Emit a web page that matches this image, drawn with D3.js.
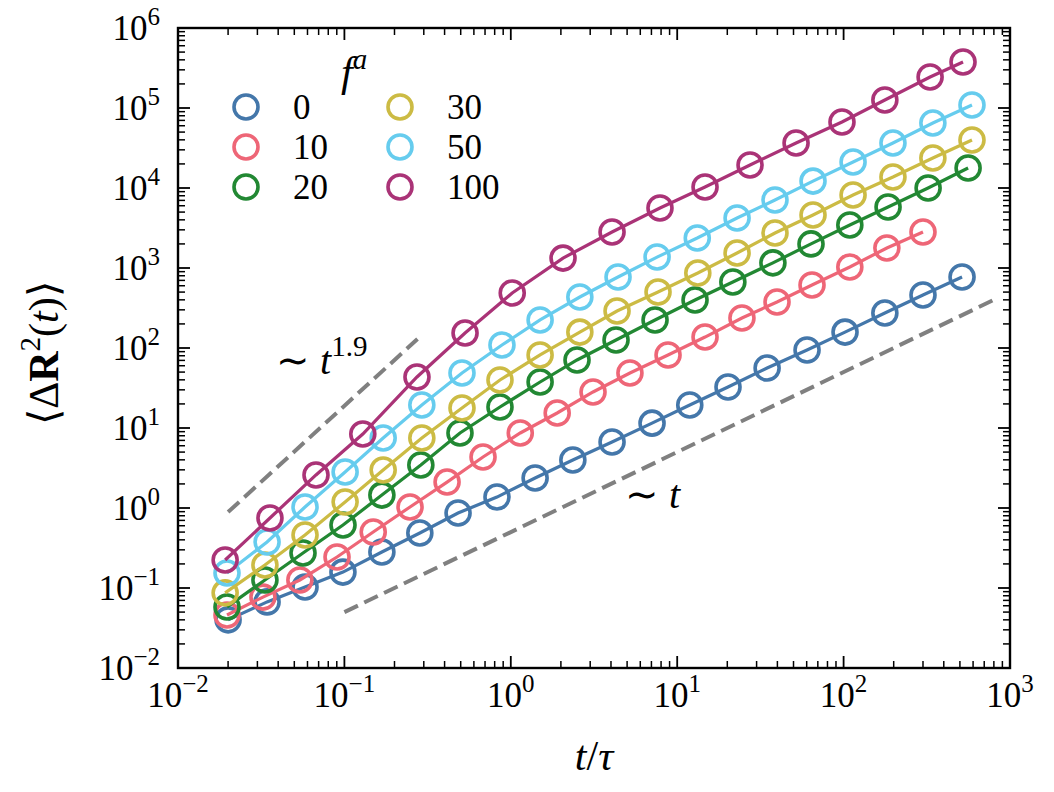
<!DOCTYPE html>
<html>
<head>
<meta charset="utf-8">
<script src="https://cdn.jsdelivr.net/npm/d3@7"></script>
<style>
  html, body { margin: 0; padding: 0; background: #fff; }
  svg { display: block; }
</style>
</head>
<body>
<svg id="chart" width="1054" height="792"></svg>
<script>
// ---------------- data ----------------
const faLabels = ["0", "10", "20", "30", "50", "100"];
const seriesColors = ["#4477AA", "#EE6677", "#228833", "#CCBB44", "#66CCEE", "#AA3377"];

const tF0 = [0.020, 0.0343, 0.058, 0.098, 0.168, 0.284, 0.482, 0.826, 1.40, 2.36, 4.06, 7.06, 11.9, 20.2, 34.7, 60.3, 102, 177, 300, 515];
const rF0 = [0.040, 0.067, 0.103, 0.158, 0.282, 0.487, 0.866, 1.37, 2.37, 3.98, 6.68, 11.5, 19.4, 32.6, 56.2, 94.4, 158, 274, 460, 772];

const tF10 = [0.0197, 0.0324, 0.054, 0.0903, 0.149, 0.248, 0.414, 0.681, 1.14, 1.90, 3.12, 5.20, 8.81, 14.7, 24.5, 39.8, 64.6, 109, 182, 300];
const rF10 = [0.046, 0.077, 0.126, 0.244, 0.501, 1.03, 2.11, 4.34, 8.66, 15.4, 28.2, 48.7, 81.8, 137, 237, 376, 613, 1030, 1780, 2820];

const tF20 = [0.0197, 0.0333, 0.0564, 0.0981, 0.168, 0.288, 0.495, 0.861, 1.50, 2.50, 4.29, 7.36, 12.8, 21.6, 37.6, 63.7, 109, 185, 322, 560];
const rF20 = [0.058, 0.126, 0.274, 0.613, 1.45, 3.45, 8.66, 18.3, 37.6, 70.8, 126, 224, 398, 668, 1160, 2000, 3450, 5790, 10000, 17800];

const tF30 = [0.0192, 0.0333, 0.058, 0.101, 0.171, 0.292, 0.509, 0.861, 1.50, 2.60, 4.35, 7.67, 13.3, 22.9, 38.7, 65.5, 114, 198, 344, 591];
const rF30 = [0.087, 0.194, 0.46, 1.19, 2.99, 7.5, 17.8, 39.8, 81.8, 158, 290, 501, 866, 1540, 2740, 4600, 8180, 13700, 23700, 39800];

const tF50 = [0.0197, 0.0343, 0.058, 0.101, 0.171, 0.292, 0.509, 0.885, 1.50, 2.60, 4.41, 7.57, 13.2, 22.9, 38.7, 65.5, 114, 198, 344, 591];
const rF50 = [0.154, 0.376, 1.03, 2.82, 7.50, 19.4, 48.7, 109, 224, 434, 772, 1370, 2370, 4220, 7080, 12200, 21100, 36500, 64900, 109000];

const tF100 = [0.0192, 0.0357, 0.0675, 0.129, 0.273, 0.531, 1.02, 2.06, 4.06, 7.88, 14.7, 27.4, 51.8, 97.8, 177, 331, 522];
const rF100 = [0.224, 0.75, 2.59, 8.41, 43.4, 154, 487, 1330, 2820, 5620, 10300, 19400, 36500, 66800, 126000, 244000, 376000];

// guide lines (power laws): start/end times and values
const guideSuper = { t: [0.02, 0.275], r: [0.89, 129.5], label: "1.9" };
const guideLinear = { t: [0.1, 800], r: [0.05, 400] };

const xTickExps = [-2, -1, 0, 1, 2, 3];
const yTickExps = [-2, -1, 0, 1, 2, 3, 4, 5, 6];

// ---------------- drawing ----------------
const series = [
  { t: tF0, r: rF0 }, { t: tF10, r: rF10 }, { t: tF20, r: rF20 },
  { t: tF30, r: rF30 }, { t: tF50, r: rF50 }, { t: tF100, r: rF100 }
].map((s, i) => ({ ...s, label: faLabels[i], color: seriesColors[i] }));

const FONT = '"Liberation Serif", "Times New Roman", serif';
const L = 178, R = 1010, T = 28, B = 668;

const svg = d3.select("#chart");
const x = d3.scaleLog().domain([1e-2, 1e3]).range([L, R]);
const y = d3.scaleLog().domain([1e-2, 1e6]).range([B, T]);

function txt(px, py, size) {
  return svg.append("text").attr("x", px).attr("y", py)
    .style("font-family", FONT).style("font-size", size + "px").attr("fill", "#000");
}
function sub(sel, s, opts = {}) {
  const ts = sel.append("tspan").text(s);
  if (opts.size) ts.style("font-size", opts.size + "px");
  if (opts.dy) ts.attr("dy", opts.dy);
  if (opts.italic) ts.style("font-style", "italic");
  if (opts.bold) ts.style("font-weight", "bold");
  return ts;
}

svg.append("defs").append("clipPath").attr("id", "clip")
  .append("rect").attr("x", L).attr("y", T).attr("width", R - L).attr("height", B - T);

const plot = svg.append("g").attr("clip-path", "url(#clip)");

function guide(g) {
  plot.append("path")
    .attr("d", d3.line().x(d => x(d[0])).y(d => y(d[1]))(g.t.map((tt, i) => [tt, g.r[i]])))
    .attr("fill", "none").attr("stroke", "#808080").attr("stroke-width", 4)
    .attr("stroke-dasharray", "15,7");
}
guide(guideSuper);
guide(guideLinear);

const line = d3.line().x(d => x(d[0])).y(d => y(d[1]));
series.forEach(s => {
  const pts = s.t.map((tt, i) => [tt, s.r[i]]);
  const g = plot.append("g");
  g.append("path").attr("d", line(pts)).attr("fill", "none")
    .attr("stroke", s.color).attr("stroke-width", 3.2);
  g.selectAll("circle").data(pts).join("circle")
    .attr("cx", d => x(d[0])).attr("cy", d => y(d[1])).attr("r", 12)
    .attr("fill", "none").attr("stroke", s.color).attr("stroke-width", 3.6);
});

// ticks (inward on all four sides)
const axes = svg.append("g").attr("stroke", "#000").attr("stroke-width", 1.8);
function minorVals(exps) {
  const out = [];
  for (let e = exps[0]; e < exps[exps.length - 1]; e++)
    for (let k = 2; k <= 9; k++) out.push(k * Math.pow(10, e));
  return out;
}
const xMaj = xTickExps.map(e => Math.pow(10, e));
const yMaj = yTickExps.map(e => Math.pow(10, e));
const MAJ = 12, MIN = 7;
xMaj.forEach(v => {
  axes.append("line").attr("x1", x(v)).attr("x2", x(v)).attr("y1", B).attr("y2", B - MAJ);
  axes.append("line").attr("x1", x(v)).attr("x2", x(v)).attr("y1", T).attr("y2", T + MAJ);
});
minorVals(xTickExps).forEach(v => {
  axes.append("line").attr("x1", x(v)).attr("x2", x(v)).attr("y1", B).attr("y2", B - MIN).attr("stroke-width", 1.5);
  axes.append("line").attr("x1", x(v)).attr("x2", x(v)).attr("y1", T).attr("y2", T + MIN).attr("stroke-width", 1.5);
});
yMaj.forEach(v => {
  axes.append("line").attr("x1", L).attr("x2", L + MAJ).attr("y1", y(v)).attr("y2", y(v));
  axes.append("line").attr("x1", R).attr("x2", R - MAJ).attr("y1", y(v)).attr("y2", y(v));
});
minorVals(yTickExps).forEach(v => {
  axes.append("line").attr("x1", L).attr("x2", L + MIN).attr("y1", y(v)).attr("y2", y(v)).attr("stroke-width", 1.5);
  axes.append("line").attr("x1", R).attr("x2", R - MIN).attr("y1", y(v)).attr("y2", y(v)).attr("stroke-width", 1.5);
});
svg.append("rect").attr("x", L).attr("y", T).attr("width", R - L).attr("height", B - T)
  .attr("fill", "none").attr("stroke", "#000").attr("stroke-width", 2.4);

// tick labels
const FS = 35, SUP = 25;
function powLabel(sel, e) {
  sub(sel, "10");
  sub(sel, e < 0 ? "\u2212" + (-e) : String(e), { size: SUP, dy: -15 });
}
xMaj.forEach((v, i) => {
  const t = txt(x(v), 707, FS).attr("text-anchor", "middle");
  powLabel(t, xTickExps[i]);
});
yMaj.forEach((v, i) => {
  const t = txt(160, y(v) + 12, FS).attr("text-anchor", "end");
  powLabel(t, yTickExps[i]);
});

// axis labels
const xl = txt((L + R) / 2, 770, 42).attr("text-anchor", "middle");
sub(xl, "t", { italic: true });
sub(xl, "/");
sub(xl, "\u03C4", { italic: true });

const yl = svg.append("text").attr("transform", `translate(58,${(T + B) / 2 + 5}) rotate(-90)`)
  .attr("text-anchor", "middle").style("font-family", FONT).style("font-size", "42px");
sub(yl, "\u27E8\u0394");
sub(yl, "R", { bold: true });
sub(yl, "2", { size: 29, dy: -18 });
sub(yl, "(", { dy: 18 });
sub(yl, "t", { italic: true });
sub(yl, ")\u27E9");

// guide annotations
const a1 = txt(276, 374, 40);
sub(a1, "\u223C ");
sub(a1, "t", { italic: true });
sub(a1, guideSuper.label, { size: 29, dy: -18 });

const a2 = txt(625, 508, 40);
sub(a2, "\u223C ");
sub(a2, "t", { italic: true });

// legend
const lt = txt(341, 86, 42);
sub(lt, "f", { italic: true });
sub(lt, "a", { size: 29, dy: -17, italic: true });

const legCols = [246, 400], legRows = [107, 147, 187];
series.forEach((s, i) => {
  const cx = legCols[Math.floor(i / 3)], cy = legRows[i % 3];
  svg.append("circle").attr("cx", cx).attr("cy", cy).attr("r", 12)
    .attr("fill", "none").attr("stroke", s.color).attr("stroke-width", 3.6);
  txt(cx + 47, cy + 12, FS).text(s.label);
});
</script>
</body>
</html>
